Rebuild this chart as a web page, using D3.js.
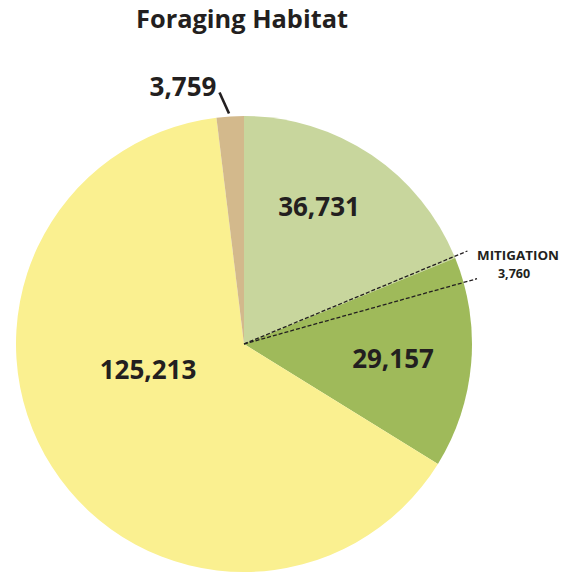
<!DOCTYPE html>
<html>
<head>
<meta charset="utf-8">
<script src="https://cdn.jsdelivr.net/npm/d3@7"></script>
<style>
  html, body { margin: 0; padding: 0; background: #fff; }
  svg { display: block; }
  text { font-family: "Open Sans", "Noto Sans", sans-serif; font-weight: 700; fill: #231f20; }
</style>
</head>
<body>
<svg id="chart" width="572" height="574"></svg>
<script>
// ---- data ----
const title = "Foraging Habitat";
const categories = ["Light green", "Green", "Yellow", "Tan"];
const values = [36731, 29157, 125213, 3759];
const valueLabels = ["36,731", "29,157", "125,213", "3,759"];
const mitigationLabel = "MITIGATION";
const mitigationValue = 3760;
const mitigationValueLabel = "3,760";

// ---- style / layout ----
const colors = ["#c8d69d", "#9fba5a", "#faf090", "#d3b98c"];
const W = 572, H = 574;
const cx = 244, cy = 344, R = 228;
// label centre positions (in px relative to pie centre)
const labelPos = [[75, -128], [149, 24], [-96, 35], [-61, -248]];

const svg = d3.select("#chart");
svg.append("text")
  .attr("x", 242).attr("y", 28)
  .attr("text-anchor", "middle")
  .attr("font-size", 25)
  .attr("textLength", 212).attr("lengthAdjust", "spacingAndGlyphs")
  .text(title);

const g = svg.append("g").attr("transform", `translate(${cx},${cy})`);

const data = categories.map((c, i) => ({ cat: c, value: values[i], label: valueLabels[i] }));
const pie = d3.pie().value(d => d.value).sort(null).startAngle(0).endAngle(2 * Math.PI);
const arcs = pie(data);
const arc = d3.arc().innerRadius(0).outerRadius(R);

g.selectAll("path.slice")
  .data(arcs)
  .join("path")
  .attr("class", "slice")
  .attr("d", arc)
  .attr("fill", (d, i) => colors[i]);

// labels
g.selectAll("text.val")
  .data(arcs)
  .join("text")
  .attr("class", "val")
  .attr("x", (d, i) => labelPos[i][0])
  .attr("y", (d, i) => labelPos[i][1])
  .attr("text-anchor", "middle")
  .attr("font-size", 26)
  .text(d => d.data.label);

// leader for tan slice
const tan = arcs[3];
const tanMid = (tan.startAngle + tan.endAngle) / 2;
const p0 = [Math.sin(tanMid) * (R + 3) - 1, -Math.cos(tanMid) * (R + 3)];
g.append("line")
  .attr("x1", p0[0]).attr("y1", p0[1])
  .attr("x2", p0[0] - 9.5).attr("y2", p0[1] - 21)
  .attr("stroke", "#231f20").attr("stroke-width", 2.6);

// mitigation wedge (dashed)
const total = d3.sum(values);
const angle = d3.scaleLinear().domain([0, total]).range([0, 2 * Math.PI]);
const mStart = arcs[0].endAngle - 0.008;
const mEnd = mStart + angle(mitigationValue);
const Rl = 242;
[mStart, mEnd].forEach(a => {
  g.append("line")
    .attr("x1", 0).attr("y1", 0)
    .attr("x2", Math.sin(a) * Rl).attr("y2", -Math.cos(a) * Rl)
    .attr("stroke", "#231f20").attr("stroke-width", 1.3)
    .attr("stroke-dasharray", "4,2");
});

svg.append("text")
  .attr("x", 518).attr("y", 260)
  .attr("text-anchor", "middle")
  .attr("font-size", 12.5)
  .attr("textLength", 82).attr("lengthAdjust", "spacingAndGlyphs")
  .text(mitigationLabel);
svg.append("text")
  .attr("x", 514).attr("y", 277.5)
  .attr("text-anchor", "middle")
  .attr("font-size", 12.5)
  .text(mitigationValueLabel);
</script>
</body>
</html>
